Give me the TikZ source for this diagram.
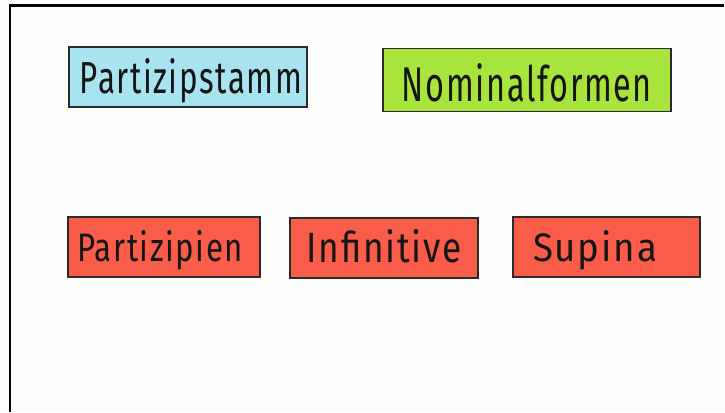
\documentclass[tikz,border=0pt]{standalone}
\usepackage{fontspec}
\setmainfont{Fira Sans}[LetterSpace=5]
\usepackage{graphicx}
\definecolor{bg}{HTML}{FDFEFB}
\definecolor{cardblue}{HTML}{A9E3F0}
\definecolor{cardgreen}{HTML}{A8E43C}
\definecolor{cardred}{HTML}{F95C48}
\definecolor{cardedge}{HTML}{2B2B2B}
\definecolor{ink}{HTML}{151515}
\tikzset{
  card/.style={draw=cardedge, line width=1.3pt, inner sep=0pt, text=ink},
  frameline/.style={draw=black, line width=2.5pt},
}
\newcommand{\cardtext}[3]{\resizebox{#1pt}{#2pt}{#3}}
\begin{document}
\begin{tikzpicture}[x=1pt,y=-1pt]
\fill[bg] (0,0) rectangle (725,412);
\useasboundingbox (0,0) rectangle (725,412);
\coordinate (tl) at (10,5.5);
\coordinate (tr) at (724,5.5);
\coordinate (bl) at (10,412);
\draw[frameline] (tr) -- (tl) -- (bl);
% top row
\node[card, fill=cardblue, minimum width=238pt, minimum height=60pt] (stamm) at (188,77) {};
\node[text=ink] (stammt) at (191,81) {\cardtext{222}{35}{Partizipstamm}};
\node[card, fill=cardgreen, minimum width=288pt, minimum height=63pt] (nomin) at (527,80) {};
\node[text=ink] (nomint) at (527,83) {\cardtext{250}{38}{Nominalformen}};
% bottom row
\node[card, fill=cardred, minimum width=192pt, minimum height=60pt] (partiz) at (164,247) {};
\node[text=ink] (partizt) at (160,250) {\cardtext{166}{31}{Partizipien}};
\node[card, fill=cardred, minimum width=188pt, minimum height=60pt] (infin) at (384,248) {};
\node[text=ink] (infint) at (384,246) {\cardtext{155}{33}{Infinitive}};
\node[card, fill=cardred, minimum width=187pt, minimum height=60pt] (supina) at (606.5,247) {};
\node[text=ink] (supinat) at (595,250) {\cardtext{124}{31}{Supina}};
\end{tikzpicture}
\end{document}
